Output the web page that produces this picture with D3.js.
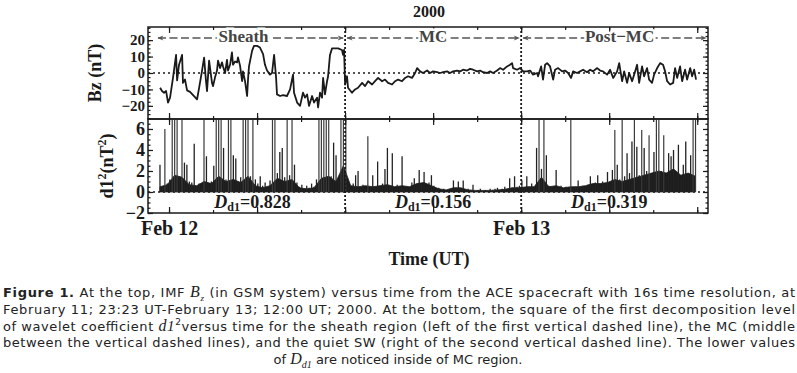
<!DOCTYPE html>
<html>
<head>
<meta charset="utf-8">
<script src="https://cdn.jsdelivr.net/npm/d3@7"></script>
<style>
  body { margin: 0; background: #fff; }
  svg { display: block; }
</style>
</head>
<body>
<svg id="chart" width="797" height="373"></svg>
<script>
// ---- data ----
// Bz samples: hours since 2000-02-12 00:00 UT, value in nT
const bzHours = [
  -0.61,-0.48,-0.34,-0.20,-0.07,0.07,0.27,0.48,0.55,0.68,
  0.89,0.95,1.09,1.23,1.43,1.64,1.91,2.05,2.25,2.39,
  2.52,2.59,2.73,2.93,3.00,3.14,3.27,3.34,3.48,3.61,
  3.68,3.82,3.95,4.02,4.16,4.29,4.36,4.50,4.64,4.70,
  4.84,4.98,5.04,5.18,5.32,5.39,5.45,5.66,5.79,6.00,
  6.20,6.41,6.54,6.68,6.88,7.02,7.16,7.29,7.36,7.57,
  7.77,8.04,8.25,8.45,8.52,8.73,8.93,9.13,9.27,9.41,
  9.54,9.75,9.88,10.09,10.16,10.29,10.43,10.50,10.63,10.77,
  10.84,10.97,11.11,11.32,11.52,11.79,11.86,11.93,12.00,12.13,
  12.20,12.47,12.68,12.88,13.16,13.36,13.57,13.84,14.04,14.25,
  14.52,14.72,14.93,15.20,15.41,15.61,15.88,16.09,16.29,16.56,
  16.77,16.91,17.11,17.31,17.59,17.79,18.00,18.27,18.47,18.68,
  18.95,19.15,19.36,19.63,19.84,20.04,20.31,20.52,20.72,21.00,
  21.20,21.40,21.68,21.88,22.09,22.36,22.56,22.77,23.04,23.24,
  23.38,23.45,23.72,23.93,24.13,24.40,24.61,24.81,25.09,25.15,
  25.36,25.49,25.63,25.77,25.97,26.18,26.31,26.52,26.79,26.99,
  27.20,27.40,27.54,27.81,28.02,28.22,28.49,28.70,28.90,29.18,
  29.38,29.58,29.86,30.06,30.27,30.54,30.68,30.88,31.02,31.22,
  31.36,31.56,31.77,31.90,32.04,32.24,32.38,32.58,32.72,32.92,
  33.06,33.27,33.47,33.67,33.81,33.95,34.15,34.36,34.49,34.63,
  34.83,34.97,35.17,35.31,35.52,35.65,35.79,35.92
];
const bzValues = [
  -9,-11,-12,-11,-18,-15,-3,11,-4.5,5,
  11,-6,-4,-10.6,-11.5,-13.5,-16,-9,1.5,9.4,
  -5,-11,7.5,-6,-8,-2.5,1.5,7.5,3,6.5,
  4,0,8,1.5,5,12.5,5,7,6.5,9.5,
  4.5,-5,1,-5,-14,-3,4,13.5,16.5,16.5,
  15.5,11.5,5,1.5,-1,0,11,-2,-13,-14,
  -13.5,-14,-10,-1,-12,-18,-20,-12,-15,-13,
  -20,-14,-18,-15,-21,-12,-15,-3,-13,-5,
  -2,11,15,15,15,14,11,14,-7,-2,
  -9,-12,-10,-9,-6,-8,-5,-7,-5,-3,
  -5,-4,-6,-7,-5,-4,-5,-3,-2,-3,
  0,3,1,0,1.5,0,1,0.5,0,0.5,
  1,0,1,1.5,1,2,1.5,2.5,2,1,
  1.5,0.5,0,1,0,1.5,3,2,4,5,
  6,3,2,3,1,1,1.5,-1,0,-2,
  4,-4,5,6,4,-4,2,3,1,1.5,
  0,-3,1,0,1,2,0.5,2,1,3,
  1.5,1,-1,2,-3,1,6,-5,1,-6,
  0,-5,1,5,-6,4,-2,3,-4,-6,
  -1,3,6,5,1,-5,-7,-6,3,-3,
  4,-5,2,-4,3,-2,2,-4
];

// d1^2 spikes every 10 min from 2000-02-11 23:23 UT, nT^2
const d1Start = "2000-02-11T23:23:00Z";
const d1StepMinutes = 10;
const d1Values = [
  2.6,0.5,6.0,0.8,1.2,8,8,8,1.5,8,
  2.8,2.6,1.0,0.9,4.6,0.5,0.8,0.4,8,3.4,
  0.6,1.0,2.5,8,8,8,4.2,1.2,8,8,
  3.5,3.2,1.0,1.4,8,8,8,1.5,8,1.2,
  0.8,1.5,0.6,0.9,0.4,1.1,8,8,1.8,3.8,
  4.2,1.4,8,1.6,8,2.6,0.9,0.5,0.7,0.3,
  0.6,0.4,0.8,0.5,1.2,8,8,8,8,8,
  1.5,4.7,3.5,1.2,8,8,8,0.6,0.3,0.8,
  1.6,2.0,0.4,0.7,0.3,5.3,0.5,1.6,0.4,2.9,
  0.5,0.8,2.2,4.2,0.6,3.7,0.3,0.7,0.4,3.4,
  0.3,0.5,0.2,0.9,1.3,0.6,2.1,0.8,1.9,0.5,
  0.9,1.6,0.6,0.3,0.4,0.2,0.3,0.1,0.2,0.3,
  1.1,0.4,1.0,0.3,1.1,0.2,0.3,0.2,0.7,0.1,
  0.2,0.3,0.1,0.2,0.1,0.3,0.2,0.3,0.4,0.2,
  0.3,0.5,0.3,1.3,0.4,1.5,0.5,0.6,1.1,0.4,
  1.5,0.5,0.8,0.4,4.2,8,2.2,8,3.5,0.6,
  0.5,0.3,2.1,0.4,0.6,0.3,0.5,0.2,8,0.4,
  0.5,1.1,0.3,0.6,0.4,0.7,1.5,0.5,0.9,1.6,
  0.6,1.0,0.8,1.9,0.7,2.1,5.9,2.6,1.2,8,
  1.5,3.7,1.8,4.8,8,4.3,1.6,5.9,4.2,2.0,
  5.4,1.8,3.8,8,8,2.0,5.4,1.5,3.7,3.4,
  4.0,1.6,4.5,1.3,2.6,4.8,1.7,3.5,8,8
];
// height of the dense dark band under the spikes, every 30 min from the same start
const d1BaseStepMinutes = 30;
const d1Base = [
  0.5,0.7,1.6,1.4,0.7,0.6,1.0,0.8,1.5,1.0,
  1.2,0.9,1.5,0.6,0.4,0.6,1.3,1.0,1.2,0.4,
  0.3,0.4,1.3,1.5,1.0,2.5,0.6,0.5,0.6,0.5,
  0.6,0.7,0.5,0.6,0.5,0.8,0.9,0.6,0.3,0.2,
  0.4,0.4,0.2,0.15,0.15,0.15,0.2,0.25,0.4,0.4,
  0.5,0.5,1.4,0.5,0.6,0.4,0.5,0.5,0.6,0.8,
  0.8,0.9,1.2,1.0,1.2,1.4,1.6,1.8,2.0,1.8,
  2.2,1.6,1.8,1.5
];

const regionNames = ["Sheath", "MC", "Post\u2212MC"];
const regionBounds = ["2000-02-11T23:23:00Z", "2000-02-12T12:00:00Z", "2000-02-13T00:00:00Z", "2000-02-13T12:00:00Z"];
const ddValues = ["0.828", "0.156", "0.319"];
const bzTicks = [-20, -10, 0, 10, 20];
const d1Ticks = [-2, 0, 2, 4, 6];
const timeDomain = ["2000-02-11T22:34:00Z", "2000-02-13T12:44:00Z"];

// ---- layout ----
const L = 148, R = 708, T1 = 27, B1 = 119, B2 = 213;
const serif = "'Liberation Serif','Times New Roman',serif";
const ink = "#1a1a1a";

const svg = d3.select("#chart");
const feb12 = Date.parse("2000-02-12T00:00:00Z");
const t0 = Date.parse(d1Start);

const bzData = bzHours.map((h, i) => ({ t: new Date(feb12 + h * 3600e3), v: bzValues[i] }));
const d1Data = d1Values.map((v, i) => ({ t: new Date(t0 + i * d1StepMinutes * 60e3), v: v }));
const baseData = d1Base.map((v, i) => ({ t: new Date(t0 + i * d1BaseStepMinutes * 60e3), v: v }));
const bounds = regionBounds.map(s => new Date(s));

const x = d3.scaleUtc().domain(timeDomain.map(s => new Date(s))).range([L, R]);
const yTop = d3.scaleLinear().domain([-28, 28]).range([B1, T1]);
const yBot = d3.scaleLinear().domain([-2, 6.95]).range([B2, B1]);

const defs = svg.append("defs");
defs.append("clipPath").attr("id", "clipTop")
  .append("rect").attr("x", L).attr("y", T1).attr("width", R - L).attr("height", B1 - T1);
defs.append("clipPath").attr("id", "clipBot")
  .append("rect").attr("x", L).attr("y", B1 + 1).attr("width", R - L).attr("height", B2 - B1);
defs.append("marker").attr("id", "arrow").attr("viewBox", "0 0 10 10")
  .attr("refX", 9).attr("refY", 5).attr("markerWidth", 7).attr("markerHeight", 6)
  .attr("markerUnits", "userSpaceOnUse").attr("orient", "auto-start-reverse")
  .append("path").attr("d", "M0,1 L10,5 L0,9 L3,5 Z").attr("fill", "#555");

// zero lines
[yTop(0), yBot(0)].forEach(yy => {
  svg.append("line").attr("x1", L).attr("x2", R).attr("y1", yy).attr("y2", yy)
    .attr("stroke", ink).attr("stroke-width", 1.3).attr("stroke-dasharray", "2,3");
});

// Bz trace
svg.append("path").datum(bzData)
  .attr("clip-path", "url(#clipTop)")
  .attr("fill", "none").attr("stroke", ink).attr("stroke-width", 1.8)
  .attr("stroke-linejoin", "round")
  .attr("d", d3.line().x(d => x(d.t)).y(d => yTop(d.v)));

// d1^2 : dense band + spikes
const bot = svg.append("g").attr("clip-path", "url(#clipBot)");
bot.append("path").datum(baseData)
  .attr("fill", "#1c1c1c").attr("stroke", "#1c1c1c").attr("stroke-width", 0.8)
  .attr("d", d3.area().x(d => x(d.t)).y0(yBot(0)).y1(d => yBot(d.v)));
bot.selectAll(".spike").data(d1Data).join("line").attr("class", "spike")
  .attr("x1", d => x(d.t)).attr("x2", d => x(d.t))
  .attr("y1", yBot(0)).attr("y2", d => yBot(d.v))
  .attr("stroke", d => d.v > 5 ? "#3a3a3a" : "#222")
  .attr("stroke-width", d => d.v > 5 ? 1.2 : 1.3);

// region boundaries
svg.selectAll(".bound").data(bounds.slice(1, 3)).join("line").attr("class", "bound")
  .attr("x1", d => x(d)).attr("x2", d => x(d)).attr("y1", T1).attr("y2", B2)
  .attr("stroke", ink).attr("stroke-width", 1.8).attr("stroke-dasharray", "2,2");

// frames
[[T1, B1], [B1, B2]].forEach(([a, b]) => {
  svg.append("rect").attr("x", L).attr("y", a).attr("width", R - L).attr("height", b - a)
    .attr("fill", "none").attr("stroke", ink).attr("stroke-width", 1.5);
});

// axes
function styleAxis(g, size) {
  g.select(".domain").remove();
  g.attr("font-family", serif).attr("font-size", size).attr("font-weight", "bold");
  g.selectAll("text").attr("fill", ink);
  g.selectAll("line").attr("stroke", ink).attr("stroke-width", 1.2);
}
const minus = d => d < 0 ? "\u2212" + (-d) : String(d);

function yAxes(scale, ticks, minorStep, size) {
  const [lo, hi] = scale.domain();
  const minor = d3.range(Math.ceil(lo / minorStep) * minorStep, hi + 1e-9, minorStep);
  svg.append("g").attr("transform", `translate(${L},0)`)
    .call(d3.axisLeft(scale).tickValues(ticks).tickSize(-5).tickPadding(3).tickFormat(minus))
    .call(g => styleAxis(g, size));
  svg.append("g").attr("transform", `translate(${L},0)`)
    .call(d3.axisLeft(scale).tickValues(minor).tickSize(-2.5).tickFormat(""))
    .call(g => styleAxis(g, 10));
  svg.append("g").attr("transform", `translate(${R},0)`)
    .call(d3.axisRight(scale).tickValues(ticks).tickSize(-5).tickFormat(""))
    .call(g => styleAxis(g, 10));
  svg.append("g").attr("transform", `translate(${R},0)`)
    .call(d3.axisRight(scale).tickValues(minor).tickSize(-2.5).tickFormat(""))
    .call(g => styleAxis(g, 10));
}
yAxes(yTop, bzTicks, 2.5, 15);
yAxes(yBot, d1Ticks, 0.5, 18);

const major = x.ticks(d3.utcHour.every(6));
const minorX = x.ticks(d3.utcHour.every(3));
[[T1, d3.axisTop], [B1, d3.axisBottom], [B1, d3.axisTop]].forEach(([yy, ax]) => {
  svg.append("g").attr("transform", `translate(0,${yy})`)
    .call(ax(x).tickValues(major).tickSize(-6).tickFormat(""))
    .call(g => styleAxis(g, 10));
  svg.append("g").attr("transform", `translate(0,${yy})`)
    .call(ax(x).tickValues(minorX).tickSize(-3).tickFormat(""))
    .call(g => styleAxis(g, 10));
});
const dayFmt = d3.utcFormat("%b %d");
svg.append("g").attr("transform", `translate(0,${B2})`)
  .call(d3.axisBottom(x).tickValues(major).tickSize(-6).tickPadding(8)
    .tickFormat(d => d.getUTCHours() === 0 ? dayFmt(d) : ""))
  .call(g => styleAxis(g, 20));
svg.append("g").attr("transform", `translate(0,${B2})`)
  .call(d3.axisBottom(x).tickValues(minorX).tickSize(-3).tickFormat(""))
  .call(g => styleAxis(g, 10));

// axis titles
const txt = (xx, yy, s, size) => svg.append("text").attr("x", xx).attr("y", yy)
  .attr("font-family", serif).attr("font-weight", "bold").attr("font-size", size)
  .attr("fill", ink).attr("text-anchor", "middle").text(s);
txt((L + R) / 2 + 1, 17, "2000", 16);
txt((L + R) / 2 + 1, 265, "Time (UT)", 18);
txt(0, 0, "Bz (nT)", 18).attr("transform", `translate(101,${(T1 + B1) / 2}) rotate(-90)`);
const d1Label = svg.append("text").attr("transform", `translate(113,${(B1 + B2) / 2}) rotate(-90)`)
  .attr("font-family", serif).attr("font-weight", "bold").attr("font-size", 18)
  .attr("fill", ink).attr("text-anchor", "middle");
d1Label.append("tspan").text("d1");
d1Label.append("tspan").attr("dy", -7).attr("font-size", 12).text("2");
d1Label.append("tspan").attr("dy", 7).text("(nT");
d1Label.append("tspan").attr("dy", -7).attr("font-size", 12).text("2");
d1Label.append("tspan").attr("dy", 7).text(")");

// region arrows and names
const arrowY = 38;
const labelShift = [-7, 0, 5];
regionNames.forEach((name, i) => {
  const x0 = x(bounds[i]) + (i === 0 ? -2 : 2);
  const x1 = i === 2 ? R - 2 : x(bounds[i + 1]) - 2;
  svg.append("line").attr("x1", x0).attr("x2", x1).attr("y1", arrowY).attr("y2", arrowY)
    .attr("stroke", "#555").attr("stroke-width", 1.5).attr("stroke-dasharray", "8,3.5")
    .attr("marker-start", "url(#arrow)").attr("marker-end", "url(#arrow)");
  txt((x0 + x1) / 2 + labelShift[i], arrowY + 4, name, 17)
    .attr("fill", "#444").attr("stroke", "#fff").attr("stroke-width", 5)
    .attr("paint-order", "stroke");
  // D_d1 value
  const cx = (x(bounds[i]) + x(i === 2 ? bounds[3] : bounds[i + 1])) / 2;
  const t = svg.append("text").attr("x", cx).attr("y", 208)
    .attr("font-family", serif).attr("font-weight", "bold").attr("font-size", 18)
    .attr("fill", ink).attr("text-anchor", "middle");
  t.append("tspan").attr("font-style", "italic").text("D");
  t.append("tspan").attr("dy", 3).attr("font-size", 12).text("d1");
  t.append("tspan").attr("dy", -3).text("=" + ddValues[i]);
});

// caption
const cap = svg.append("g").attr("font-family", "'DejaVu Sans',Verdana,sans-serif")
  .attr("font-size", 13).attr("fill", "#222");
function capLine(yy, parts, full) {
  const t = cap.append("text").attr("y", yy);
  if (full) t.attr("x", 3).attr("textLength", 792).attr("lengthAdjust", "spacing");
  else t.attr("x", 398).attr("text-anchor", "middle");
  parts.forEach(p => {
    const s = t.append("tspan").text(p.t);
    if (p.b) s.attr("font-weight", "bold");
    if (p.i) s.attr("font-family", serif).attr("font-style", "italic").attr("font-size", 16);
    if (p.dy) s.attr("dy", p.dy);
    if (p.fs) s.attr("font-size", p.fs);
  });
}
capLine(297, [
  { t: "Figure 1.", b: true }, { t: " At the top, IMF " }, { t: "B", i: true },
  { t: "z", i: true, fs: 9, dy: 4 }, { t: " (in GSM system) versus time from the ACE spacecraft with 16s time resolution, at", dy: -4 }
], true);
capLine(314, [{ t: "February 11; 23:23 UT-February 13; 12:00 UT; 2000. At the bottom, the square of the first decomposition level" }], true);
capLine(331, [
  { t: "of wavelet coefficient " }, { t: "d", i: true }, { t: "1", i: true, fs: 15 },
  { t: "2", fs: 9, dy: -6 }, { t: "versus time for the sheath region (left of the first vertical dashed line), the MC (middle", dy: 6 }
], true);
capLine(347, [{ t: "between the vertical dashed lines), and the quiet SW (right of the second vertical dashed line). The lower values" }], true);
capLine(364, [
  { t: "of " }, { t: "D", i: true }, { t: "d1", i: true, fs: 10, dy: 4 },
  { t: " are noticed inside of MC region.", dy: -4 }
], false);
</script>
</body>
</html>
